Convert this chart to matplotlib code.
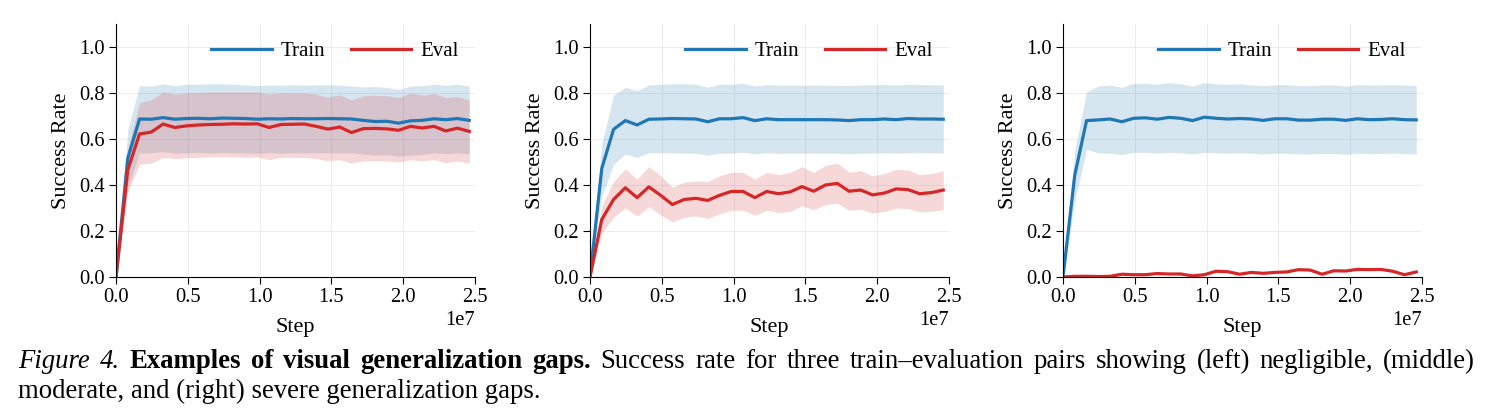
import numpy as np
import matplotlib.pyplot as plt

plt.rcParams['font.family'] = ['Liberation Serif', 'DejaVu Serif']
plt.rcParams['mathtext.fontset'] = 'stix'

# steps (x 1e7 later via offset text)
steps = np.arange(31) * 0.082e7

# ---- left: negligible gap ----
left_train = [0.0, 0.516, 0.687, 0.686, 0.693, 0.686, 0.689, 0.690, 0.688, 0.691, 0.690,
              0.689, 0.686, 0.688, 0.687, 0.689, 0.688, 0.688, 0.689, 0.688, 0.687,
              0.681, 0.676, 0.677, 0.669, 0.679, 0.681, 0.688, 0.684, 0.689, 0.681]
left_train_hi = [0.0, 0.64, 0.832, 0.830, 0.840, 0.832, 0.838, 0.838, 0.840, 0.840, 0.838,
                 0.835, 0.832, 0.834, 0.834, 0.836, 0.834, 0.835, 0.836, 0.834, 0.830,
                 0.826, 0.828, 0.824, 0.815, 0.830, 0.832, 0.838, 0.833, 0.838, 0.830]
left_train_lo = [0.0, 0.39, 0.540, 0.540, 0.545, 0.538, 0.540, 0.542, 0.538, 0.542, 0.540,
                 0.540, 0.538, 0.540, 0.538, 0.540, 0.540, 0.540, 0.540, 0.540, 0.540,
                 0.535, 0.530, 0.532, 0.525, 0.530, 0.532, 0.540, 0.536, 0.540, 0.535]
left_eval = [0.0, 0.465, 0.622, 0.630, 0.665, 0.650, 0.657, 0.661, 0.663, 0.664, 0.666,
             0.665, 0.666, 0.650, 0.663, 0.664, 0.665, 0.655, 0.643, 0.652, 0.628,
             0.645, 0.646, 0.644, 0.638, 0.655, 0.648, 0.655, 0.635, 0.647, 0.633]
left_eval_hi = [0.0, 0.56, 0.758, 0.770, 0.805, 0.795, 0.800, 0.802, 0.805, 0.805, 0.805,
                0.805, 0.805, 0.795, 0.800, 0.800, 0.800, 0.795, 0.782, 0.792, 0.770,
                0.788, 0.790, 0.788, 0.780, 0.800, 0.790, 0.798, 0.780, 0.785, 0.770]
left_eval_lo = [0.0, 0.37, 0.490, 0.495, 0.520, 0.515, 0.518, 0.520, 0.522, 0.522, 0.522,
                0.520, 0.522, 0.510, 0.520, 0.520, 0.520, 0.515, 0.505, 0.510, 0.495,
                0.505, 0.505, 0.505, 0.500, 0.510, 0.505, 0.510, 0.497, 0.505, 0.495]

# ---- middle: moderate gap ----
mid_train = [0.0, 0.472, 0.642, 0.680, 0.661, 0.686, 0.687, 0.689, 0.688, 0.687, 0.675,
             0.688, 0.688, 0.693, 0.680, 0.688, 0.684, 0.684, 0.684, 0.684, 0.684,
             0.683, 0.680, 0.684, 0.684, 0.687, 0.684, 0.689, 0.687, 0.687, 0.686]
mid_train_hi = [0.0, 0.58, 0.790, 0.825, 0.810, 0.835, 0.838, 0.840, 0.840, 0.838, 0.825,
                0.838, 0.838, 0.842, 0.830, 0.836, 0.834, 0.834, 0.834, 0.834, 0.834,
                0.833, 0.832, 0.835, 0.835, 0.838, 0.834, 0.838, 0.836, 0.836, 0.835]
mid_train_lo = [0.0, 0.35, 0.490, 0.535, 0.520, 0.540, 0.540, 0.540, 0.538, 0.538, 0.530,
                0.538, 0.538, 0.542, 0.535, 0.540, 0.538, 0.538, 0.538, 0.538, 0.538,
                0.538, 0.535, 0.538, 0.538, 0.540, 0.538, 0.540, 0.540, 0.540, 0.538]
mid_eval = [0.0, 0.250, 0.337, 0.388, 0.345, 0.392, 0.355, 0.315, 0.337, 0.342, 0.333,
            0.355, 0.372, 0.372, 0.345, 0.372, 0.362, 0.370, 0.393, 0.373, 0.400,
            0.407, 0.373, 0.378, 0.357, 0.365, 0.383, 0.380, 0.362, 0.367, 0.378]
mid_eval_hi = [0.0, 0.31, 0.415, 0.470, 0.425, 0.480, 0.440, 0.390, 0.412, 0.418, 0.415,
               0.440, 0.455, 0.455, 0.425, 0.455, 0.445, 0.455, 0.480, 0.455, 0.485,
               0.495, 0.455, 0.462, 0.440, 0.450, 0.468, 0.465, 0.445, 0.450, 0.462]
mid_eval_lo = [0.0, 0.19, 0.260, 0.300, 0.265, 0.305, 0.270, 0.240, 0.260, 0.265, 0.255,
               0.275, 0.290, 0.290, 0.268, 0.290, 0.280, 0.285, 0.310, 0.292, 0.315,
               0.320, 0.290, 0.295, 0.278, 0.285, 0.300, 0.297, 0.283, 0.286, 0.292]

# ---- right: severe gap ----
right_train = [0.0, 0.443, 0.680, 0.683, 0.687, 0.675, 0.690, 0.692, 0.686, 0.694, 0.690,
               0.680, 0.695, 0.690, 0.687, 0.689, 0.687, 0.681, 0.688, 0.688, 0.682,
               0.682, 0.686, 0.686, 0.681, 0.688, 0.684, 0.685, 0.688, 0.684, 0.683]
right_train_hi = [0.0, 0.55, 0.805, 0.830, 0.835, 0.825, 0.842, 0.842, 0.838, 0.845, 0.840,
                  0.830, 0.845, 0.840, 0.838, 0.840, 0.835, 0.832, 0.836, 0.836, 0.832,
                  0.832, 0.835, 0.835, 0.830, 0.836, 0.834, 0.835, 0.836, 0.834, 0.833]
right_train_lo = [0.0, 0.33, 0.555, 0.540, 0.538, 0.532, 0.542, 0.542, 0.538, 0.542, 0.540,
                  0.535, 0.542, 0.540, 0.538, 0.540, 0.538, 0.535, 0.538, 0.538, 0.535,
                  0.535, 0.537, 0.537, 0.533, 0.538, 0.536, 0.537, 0.538, 0.536, 0.535]
right_eval = [0.0, 0.003, 0.003, 0.002, 0.003, 0.012, 0.010, 0.010, 0.015, 0.013, 0.013,
              0.005, 0.010, 0.025, 0.023, 0.012, 0.020, 0.016, 0.020, 0.022, 0.032,
              0.030, 0.012, 0.027, 0.026, 0.033, 0.032, 0.033, 0.025, 0.010, 0.022]
right_eval_hi = right_eval
right_eval_lo = right_eval

panels = [
    (left_train, left_train_lo, left_train_hi, left_eval, left_eval_lo, left_eval_hi),
    (mid_train, mid_train_lo, mid_train_hi, mid_eval, mid_eval_lo, mid_eval_hi),
    (right_train, right_train_lo, right_train_hi, right_eval, right_eval_lo, right_eval_hi),
]

caption_line1 = [
    ('Figure 4.', 'italic'),
    ('Examples of visual generalization gaps.', 'bold'),
    ('Success rate for three train\u2013evaluation pairs showing (left) negligible, (middle)', 'normal'),
]
caption_line2 = 'moderate, and (right) severe generalization gaps.'

blue = '#1f77b4'
red = '#d62728'

fig = plt.figure(figsize=(14.93, 4.2), dpi=100)
lefts = [116 / 1493, 590 / 1493, 1063 / 1493]
w = 359 / 1493
bottom = 1 - 277 / 420
h = 253 / 420

for lx, (tr, tr_lo, tr_hi, ev, ev_lo, ev_hi) in zip(lefts, panels):
    ax = fig.add_axes([lx, bottom, w, h])
    ax.fill_between(steps, tr_lo, tr_hi, color=blue, alpha=0.18, linewidth=0)
    ax.fill_between(steps, ev_lo, ev_hi, color=red, alpha=0.18, linewidth=0)
    ax.plot(steps, tr, color=blue, lw=2.3, label='Train')
    ax.plot(steps, ev, color=red, lw=2.3, label='Eval')
    ax.set_xlim(0, 2.5e7)
    ax.set_ylim(0, 1.1)
    ax.set_xticks(np.arange(0, 2.51e7, 0.5e7))
    ax.set_yticks(np.arange(0, 1.01, 0.2))
    ax.grid(True, color='#ececec', lw=0.7)
    ax.set_axisbelow(True)
    for s in ['top', 'right']:
        ax.spines[s].set_visible(False)
    ax.tick_params(labelsize=14.8, length=5, pad=3)
    ax.xaxis.get_offset_text().set_fontsize(14.8)
    ax.set_xlabel('Step', fontsize=16, labelpad=8)
    ax.set_ylabel('Success Rate', fontsize=16, labelpad=6)
    ax.legend(loc='upper right', bbox_to_anchor=(1.007, 1.005), ncol=2, frameon=False,
              fontsize=15, handlelength=2.9, columnspacing=1.2, handletextpad=0.45)

# caption: first line justified word by word between x=18 and x=1475
renderer = fig.canvas.get_renderer()
cap_size = 19.3
words = []
for chunk, style in caption_line1:
    for wd in chunk.split(' '):
        words.append((wd, style))
arts = []
for wd, style in words:
    kw = dict(style='italic') if style == 'italic' else (dict(weight='bold') if style == 'bold' else {})
    t = fig.text(0, (420 - 368) / 420, wd, fontsize=cap_size, va='baseline', ha='left', **kw)
    arts.append((t, t.get_window_extent(renderer).width))
total = sum(wd for _, wd in arts)
gap = (1475 - 18 - total) / (len(arts) - 1)
x = 18
for t, wd in arts:
    t.set_x(x / 1493)
    x += wd + gap
fig.text(18 / 1493, (420 - 398) / 420, caption_line2,
         fontsize=cap_size, va='baseline', ha='left')

fig.savefig('out.png', dpi=100)
